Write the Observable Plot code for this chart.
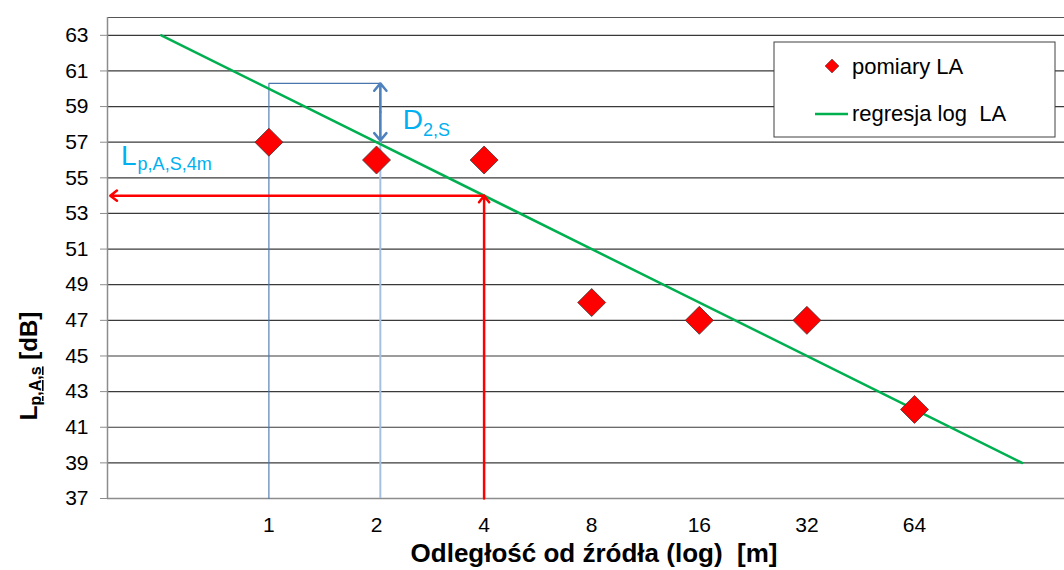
<!DOCTYPE html>
<html><head><meta charset="utf-8">
<script src="https://cdn.jsdelivr.net/npm/d3@7"></script>
<script src="https://cdn.jsdelivr.net/npm/@observablehq/plot@0.6"></script>
<style>
  html,body{margin:0;padding:0;background:#fff;overflow:hidden;}
  #chart svg{display:block;}
</style>
</head><body><div id="chart"></div>
<script>
// ---- data ----
const distances = [1, 2, 4, 8, 16, 32, 64];
const levels = [57, 56, 56, 48, 47, 47, 42];
const regressionX = [0.5, 128];
const regressionY = [63, 39];
const xTicks = [1, 2, 4, 8, 16, 32, 64];
const yTicks = [37, 39, 41, 43, 45, 47, 49, 51, 53, 55, 57, 59, 61, 63];
const seriesNames = ["pomiary LA", "regresja log  LA"];
// annotation anchors (data coordinates)
const guideX = [1, 2.05];
const guideTop = 60.3;
const dArrowY = [60.3, 57.1];
const refDistance = 4;
const refLevel = 54;
const refLeftX = 0.36;
const dLabelPos = [2.378, 57.71];
const lLabelPos = [0.387, 55.69];

const points = distances.map((d, i) => ({d, L: levels[i]}));
const regression = regressionX.map((x, i) => ({x, y: regressionY[i]}));
const xDomain = [2 ** -1.5, 2 ** 7.394];
const yDomain = [37, 64];

const diamond = {
  draw(ctx, size) {
    const r = Math.sqrt(size / Math.PI);
    ctx.moveTo(0, -r); ctx.lineTo(r, 0); ctx.lineTo(0, r); ctx.lineTo(-r, 0); ctx.closePath();
  }
};

const FONT = "'Liberation Sans', Arial, sans-serif";
const guideLine = [
  {x: guideX[0], y: yDomain[0]},
  {x: guideX[0], y: guideTop},
  {x: guideX[1], y: guideTop}
];
const dMid = (dArrowY[0] + dArrowY[1]) / 2;

const plot = Plot.plot({
  width: 1064, height: 570,
  marginLeft: 107, marginRight: 0, marginTop: 17, marginBottom: 72,
  style: {fontFamily: FONT, fontSize: "21px", color: "#000", background: "#fff", overflow: "visible"},
  x: {type: "log", base: 2, domain: xDomain},
  y: {domain: yDomain},
  marks: [
    Plot.ruleY(yTicks.filter(v => v > yDomain[0]), {stroke: "#3a3a3a", strokeWidth: 1.2}),
    Plot.ruleY([yDomain[1]], {stroke: "#555", strokeWidth: 1.2}),
    Plot.ruleY([yDomain[0]], {stroke: "#8c8c8c", strokeWidth: 1.5}),
    Plot.ruleX([xDomain[0]], {stroke: "#8c8c8c", strokeWidth: 1.5}),
    // thin guide lines
    Plot.line(guideLine, {x: "x", y: "y", stroke: "#4a76b0", strokeWidth: 1.1}),
    Plot.ruleX([guideX[1]], {y1: yDomain[0], y2: guideTop, stroke: "#a5bfe3", strokeWidth: 2}),
    // regression
    Plot.line(regression, {x: "x", y: "y", stroke: "#00b050", strokeWidth: 2.5}),
    // D2,S double arrow
    Plot.arrow([guideX[1]], {x1: d => d, x2: d => d, y1: dMid, y2: dArrowY[0], stroke: "#4f81bd", strokeWidth: 2.5, headLength: 6, headAngle: 80}),
    Plot.arrow([guideX[1]], {x1: d => d, x2: d => d, y1: dMid, y2: dArrowY[1], stroke: "#4f81bd", strokeWidth: 2.5, headLength: 6, headAngle: 80}),
    // red reference arrows
    Plot.arrow([refDistance], {x1: d => d, x2: d => d, y1: yDomain[0], y2: refLevel, stroke: "#ff0000", strokeWidth: 2.5, headLength: 5, headAngle: 75}),
    Plot.arrow([refDistance], {x1: d => d, x2: refLeftX, y1: refLevel, y2: refLevel, stroke: "#ff0000", strokeWidth: 2.5, headLength: 5, headAngle: 75}),
    // measurements
    Plot.dot(points, {x: "d", y: "L", symbol: diamond, r: 14, fill: "#ff0000", stroke: "#3a3a3a", strokeWidth: 0.8}),
    Plot.axisY(yTicks, {tickSize: 7, tickPadding: 12, stroke: "#8c8c8c", label: null, fontSize: 21}),
    Plot.axisX(xTicks, {tickSize: 0, tickPadding: 19, tickFormat: d => String(d), label: null, fontSize: 21})
  ]
});

document.getElementById("chart").appendChild(plot);
const sx = plot.scale("x"), sy = plot.scale("y");
const svg = d3.select(plot);

// annotation labels
const dText = svg.append("text").attr("x", sx.apply(dLabelPos[0])).attr("y", sy.apply(dLabelPos[1]))
  .attr("text-anchor", "start").attr("font-family", FONT).attr("font-size", 28).attr("fill", "#00b0f0");
dText.append("tspan").text("D");
dText.append("tspan").attr("font-size", 18).attr("dy", 7).text("2,S");

const lText = svg.append("text").attr("x", sx.apply(lLabelPos[0])).attr("y", sy.apply(lLabelPos[1]))
  .attr("text-anchor", "start").attr("font-family", FONT).attr("font-size", 28).attr("fill", "#00b0f0");
lText.append("tspan").text("L");
lText.append("tspan").attr("font-size", 18).attr("dx", 1).attr("dy", 5).text("p,A,S,4m");

// axis titles
svg.append("text").attr("x", 594).attr("y", 562).attr("text-anchor", "middle")
  .attr("font-family", FONT).attr("font-size", 26).attr("font-weight", "bold").attr("fill", "#000")
  .text("Odległość od źródła (log)  [m]");

const yl = svg.append("text").attr("transform", "translate(37,366) rotate(-90)").attr("text-anchor", "middle")
  .attr("font-family", FONT).attr("font-size", 24).attr("font-weight", "bold").attr("fill", "#000");
yl.append("tspan").text("L");
yl.append("tspan").attr("font-size", 16).attr("dy", 4)
  .attr("style", "text-decoration: underline wavy #ff6060").text("p,A,s");
yl.append("tspan").attr("dy", -4).text(" [dB]");

// legend
const lg = svg.append("g").attr("font-family", FONT).attr("font-size", 22).attr("text-anchor", "start");
lg.append("rect").attr("x", 774).attr("y", 42).attr("width", 281).attr("height", 95)
  .attr("fill", "#fff").attr("stroke", "#404040").attr("stroke-width", 1);
lg.append("path").attr("d", d3.symbol(diamond, Math.PI * 49)()).attr("transform", "translate(832,66)")
  .attr("fill", "#ff0000").attr("stroke", "#3a3a3a").attr("stroke-width", 0.5);
lg.append("text").attr("x", 852).attr("y", 74).attr("fill", "#000").text(seriesNames[0]);
lg.append("line").attr("x1", 815).attr("x2", 848).attr("y1", 114).attr("y2", 114)
  .attr("stroke", "#00b050").attr("stroke-width", 2.5);
lg.append("text").attr("x", 852).attr("y", 121).attr("fill", "#000")
  .style("white-space", "pre").text(seriesNames[1]);
</script>
</body></html>
